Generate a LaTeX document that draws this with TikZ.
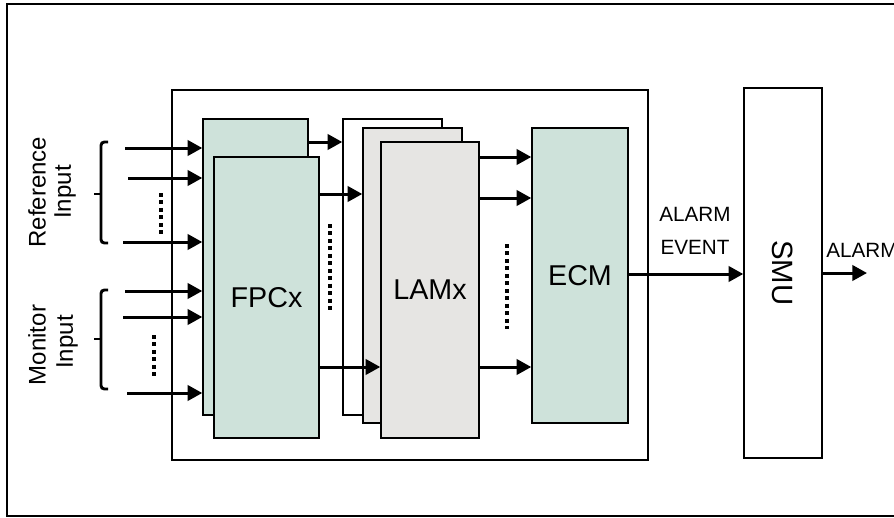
\documentclass[tikz,border=0pt]{standalone}
\usepackage{fontspec}
\setmainfont{Liberation Sans}
\usetikzlibrary{arrows.meta, positioning}
\definecolor{fpcgreen}{RGB}{206,226,218}
\definecolor{lamgray}{RGB}{230,229,227}

\begin{document}
\begin{tikzpicture}[x=0.75pt, y=-0.75pt,
  box/.style={draw, line width=1.1pt, inner sep=0pt, font=\fontsize{21.5}{25}\selectfont},
  arr/.style={-{Triangle[length=11pt, width=11.5pt]}, line width=2.25pt},
  dots/.style={line width=3pt, dash pattern=on 3pt off 2.6pt},
  lbl/.style={font=\fontsize{18}{20}\selectfont, rotate=90, inner sep=0pt},
  brc/.style={line width=2.2pt, rounded corners=2.5pt}
]
  \useasboundingbox (0,0) rectangle (894,518);
  \clip (0,0) rectangle (894,518);
  \draw[line width=1.5pt] (7,4) rectangle (910,516);

  % modules
  \node[box, minimum width=357pt, minimum height=277.5pt] (sys) at (410,275) {};
  \node[box, fill=fpcgreen, minimum width=78.75pt, minimum height=222pt] (fpcb) at (255.5,267) {};
  \node[box, fill=fpcgreen, minimum width=78.75pt, minimum height=210.75pt] (fpc) at (266.5,297.5) {FPCx};
  \node[box, fill=white, minimum width=74.25pt, minimum height=222pt] (lamb) at (392.5,267) {};
  \node[box, fill=lamgray, minimum width=74.25pt, minimum height=221.25pt] (lamm) at (412.5,275.5) {};
  \node[box, fill=lamgray, minimum width=73.5pt, minimum height=222pt] (lam) at (430,290) {LAMx};
  \node[box, fill=fpcgreen, minimum width=72pt, minimum height=221.25pt] (ecm) at (580,275.5) {ECM};
  \node[box, minimum width=58.5pt, minimum height=277.5pt] (smu) at (783,273) {};
  \node[rotate=-90, font=\fontsize{22}{26}\selectfont] (smutxt) at (smu) {SMU};

  % input labels
  \node[lbl] (reflbl) at (37,192) {Reference};
  \node[lbl] (refin) at (65,192) {Input};
  \node[lbl] (monlbl) at (37,345) {Monitor};
  \node[lbl] (monin) at (67,342) {Input};
  \draw[brc] (108,142) -- (101,142) -- (101,243) -- (108,243);
  \draw[brc] (101,194) -- (94,194);
  \draw[brc] (108,290) -- (101,290) -- (101,389) -- (108,389);
  \draw[brc] (101,339) -- (94,339);

  \coordinate (r1) at (125,148);
  \coordinate (r2) at (128,178);
  \coordinate (r3) at (123,242);
  \coordinate (m1) at (125,291);
  \coordinate (m2) at (123,317);
  \coordinate (m3) at (127,393);
  \foreach \p in {r1,r2,r3,m1,m2,m3}
    \draw[arr] (\p) -- (\p -| fpcb.west);
  \draw[dots] (161,193) -- (161,237);
  \draw[dots] (154,335) -- (154,379);

  % FPC -> LAM
  \draw[arr] (fpcb.east |- 0,142) -- (lamb.west |- 0,142);
  \draw[arr] (fpc.east |- 0,194) -- (lamm.west |- 0,194);
  \draw[arr] (fpc.east |- 0,367) -- (lam.west |- 0,367);
  \draw[dots] (330,224) -- (330,311);

  % LAM -> ECM
  \foreach \y in {157,198,367}
    \draw[arr] (lam.east |- 0,\y) -- (ecm.west |- 0,\y);
  \draw[dots] (507,244) -- (507,329);

  % ECM -> SMU -> out
  \draw[arr] (ecm.east |- 0,274) -- (smu.west |- 0,274);
  \node[font=\fontsize{15.5}{24.5}\selectfont, align=center] (evlbl) at (695,231) {ALARM\\EVENT};
  \coordinate (alarmout) at (867,273);
  \draw[arr] (smu.east |- alarmout) -- (alarmout);
  \node[font=\fontsize{15.5}{18}\selectfont, anchor=base west, inner sep=0pt] (alarmlbl) at (826,257) {ALARM};
\end{tikzpicture}
\end{document}
